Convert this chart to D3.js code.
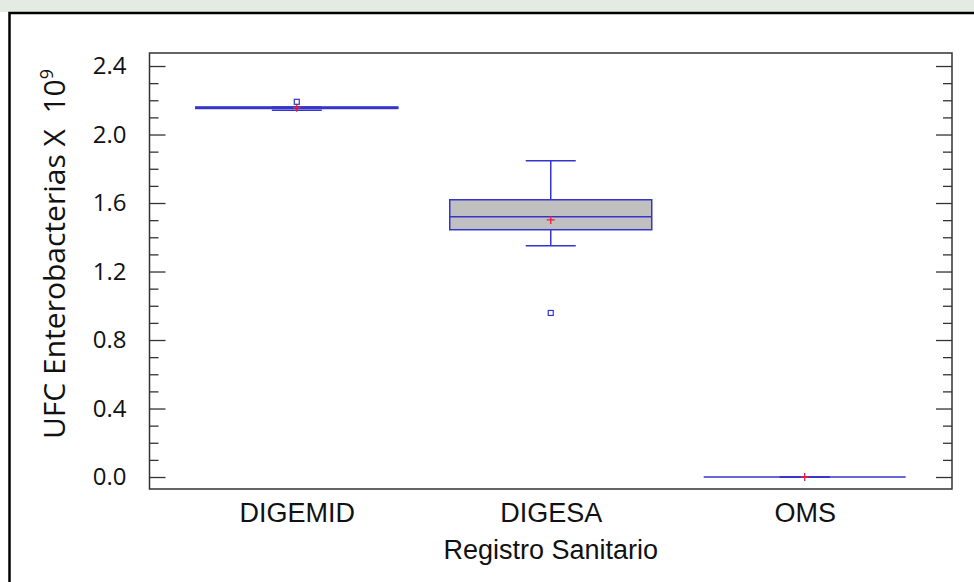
<!DOCTYPE html>
<html lang="es">
<head>
<meta charset="UTF-8">
<title>UFC Enterobacterias por Registro Sanitario</title>
<script src="https://d3js.org/d3.v7.min.js"></script>
<style>
    body { margin: 0; background: #fff; }
    svg { display: block; }
    .tick-label { font-family: "Open Sans", sans-serif; font-size: 24px; fill: #111; }
    .cat-label { font-family: "Liberation Sans", Arial, sans-serif; font-size: 27px; fill: #111; }
</style>
</head>
<body>
<div id="chart"></div>
<script>
    // values
    const categories = ["DIGEMID", "DIGESA", "OMS"];
    const whiskerLow = [2.141, 1.351, 0];
    const q1 = [2.152, 1.444, 0];
    const median = [2.156, 1.520, 0];
    const q3 = [2.161, 1.619, 0];
    const whiskerHigh = [2.161, 1.847, 0];
    const means = [2.157, 1.501, 0];
    const outliers = [[2.191], [0.958], []];
    const majorTicks = [0, 0.4, 0.8, 1.2, 1.6, 2.0, 2.4];

    const width = 974, height = 582;
    const plot = { left: 149.5, right: 952, top: 53, bottom: 489 };
    const boxColor = "#3535cc";

    const svg = d3.select("#chart").append("svg")
        .attr("width", width)
        .attr("height", height);

    // faint strip at the very top and the outer frame
    svg.append("rect").attr("x", 0).attr("y", 0).attr("width", width).attr("height", 12)
        .attr("fill", "#e3ebe3");
    svg.append("rect").attr("x", 9.5).attr("y", 13).attr("width", width + 10).attr("height", height + 10)
        .attr("fill", "#fff").attr("stroke", "#000").attr("stroke-width", 2.5);

    const x = d3.scalePoint()
        .domain(categories)
        .range([plot.left, plot.right])
        .padding(0.58);

    const y = d3.scaleLinear()
        .domain([-0.07, 2.476])
        .range([plot.bottom, plot.top]);

    // minor ticks every 0.1 between the labelled ones
    const minorTicks = d3.range(1, 24).filter(i => i % 4 !== 0).map(i => i / 10);

    // left axis: inward ticks
    const left = svg.append("g").attr("transform", `translate(${plot.left},0)`);
    left.call(d3.axisLeft(y).tickValues(majorTicks).tickSize(-16).tickPadding(23)
        .tickFormat(d3.format(".1f")));
    left.append("g").call(d3.axisLeft(y).tickValues(minorTicks).tickSize(-9).tickFormat(""));
    left.selectAll(".domain").remove();
    left.selectAll("text").attr("class", "tick-label").attr("font-family", null).attr("font-size", null);

    // right axis: inward ticks, no labels
    const right = svg.append("g").attr("transform", `translate(${plot.right},0)`);
    right.call(d3.axisRight(y).tickValues(majorTicks).tickSize(-16).tickFormat(""));
    right.append("g").call(d3.axisRight(y).tickValues(minorTicks).tickSize(-9).tickFormat(""));
    right.selectAll(".domain").remove();

    svg.selectAll(".tick line").attr("stroke", "#333").attr("stroke-width", 1.3);

    // bottom axis: category names only
    const bottom = svg.append("g").attr("transform", `translate(0,${plot.bottom})`);
    bottom.call(d3.axisBottom(x).tickSize(0));
    bottom.selectAll(".domain").remove();
    bottom.selectAll("text").attr("class", "cat-label").attr("font-family", null).attr("font-size", null)
        .attr("y", 33).attr("dy", 0);

    // plot frame
    svg.append("rect")
        .attr("x", plot.left).attr("y", plot.top)
        .attr("width", plot.right - plot.left).attr("height", plot.bottom - plot.top)
        .attr("fill", "none").attr("stroke", "#333").attr("stroke-width", 1.5);

    const boxHalf = 101, capHalf = 25;

    const boxes = svg.append("g").selectAll("g")
        .data(categories)
        .join("g");

    // whiskers
    boxes.append("line")
        .attr("x1", d => x(d)).attr("x2", d => x(d))
        .attr("y1", (d, i) => y(q3[i])).attr("y2", (d, i) => y(whiskerHigh[i]));
    boxes.append("line")
        .attr("x1", d => x(d)).attr("x2", d => x(d))
        .attr("y1", (d, i) => y(q1[i])).attr("y2", (d, i) => y(whiskerLow[i]));
    boxes.append("line")
        .attr("x1", d => x(d) - capHalf).attr("x2", d => x(d) + capHalf)
        .attr("y1", (d, i) => y(whiskerHigh[i])).attr("y2", (d, i) => y(whiskerHigh[i]));
    boxes.append("line")
        .attr("x1", d => x(d) - capHalf).attr("x2", d => x(d) + capHalf)
        .attr("y1", (d, i) => y(whiskerLow[i])).attr("y2", (d, i) => y(whiskerLow[i]));

    // box and median
    boxes.append("rect")
        .attr("x", d => x(d) - boxHalf)
        .attr("width", boxHalf * 2)
        .attr("y", (d, i) => y(q3[i]))
        .attr("height", (d, i) => y(q1[i]) - y(q3[i]))
        .attr("fill", "#c0c0c0");
    boxes.append("line")
        .attr("x1", d => x(d) - boxHalf).attr("x2", d => x(d) + boxHalf)
        .attr("y1", (d, i) => y(median[i])).attr("y2", (d, i) => y(median[i]));

    boxes.selectAll("line, rect").attr("stroke", boxColor).attr("stroke-width", 1.5);

    // mean marker
    boxes.append("path")
        .attr("d", (d, i) => {
            const cx = x(d), cy = y(means[i]);
            return `M${cx - 4},${cy}H${cx + 4}M${cx},${cy - 4}V${cy + 4}`;
        })
        .attr("stroke", "#e8203a").attr("stroke-width", 1.3);

    // outliers
    boxes.selectAll(".outlier")
        .data((d, i) => outliers[i].map(v => ({ cat: d, v })))
        .join("rect")
        .attr("class", "outlier")
        .attr("x", d => x(d.cat) - 2.5).attr("y", d => y(d.v) - 2.5)
        .attr("width", 5).attr("height", 5)
        .attr("fill", "#fff").attr("stroke", boxColor).attr("stroke-width", 1.2);

    // axis titles
    svg.append("text")
        .attr("class", "cat-label")
        .attr("x", (plot.left + plot.right) / 2)
        .attr("y", 559)
        .attr("text-anchor", "middle")
        .text("Registro Sanitario");

    const yTitle = svg.append("text")
        .attr("transform", "translate(65,254) rotate(-90)")
        .attr("text-anchor", "middle")
        .style("white-space", "pre")
        .attr("font-family", "'Open Sans', sans-serif")
        .attr("font-size", 30)
        .attr("fill", "#111");
    yTitle.append("tspan").text("UFC Enterobacterias X  10");
    yTitle.append("tspan").attr("font-size", 18).attr("dy", -12).text("9");
</script>
</body>
</html>
